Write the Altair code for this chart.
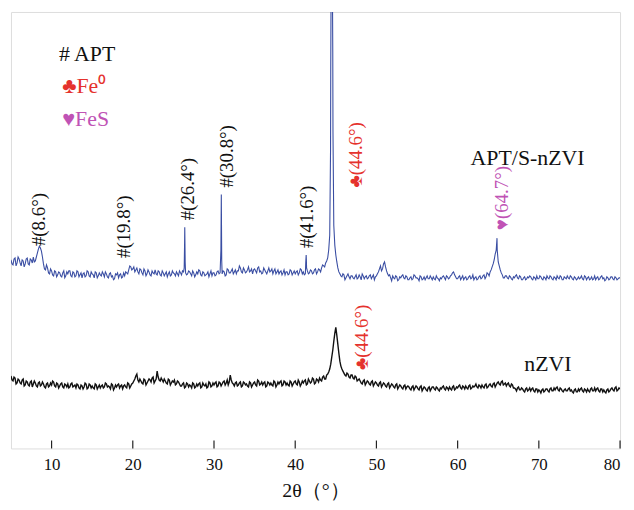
import altair as alt
import pandas as pd

# ---- data ----
grid_x = [5 + 0.25 * i for i in range(301)]
mid_x = [5.125 + 0.25 * i for i in range(300)]

blue_grid_y = [
    190,185,192,187, 191,184,189,186, 192,185,190,193, 189,197,204,199, 186,180,182,176,
    179,174,178,175, 177,173,179,174, 176,179,173,177, 174,178,175,172, 177,174,178,173,
    176,172,177,174, 175,178,173,176, 172,177,174,171, 175,172,176,173, 174,177,180,183,
    181,178,182,176, 180,175,179,176, 178,174,177,180, 175,178,174,177, 176,173,178,175,
    177,174,176,179, 175,178,177,176, 178,174,177,175, 176,179,174,177, 175,178,176,174,
    177,175,179,177, 176,178,175,180, 177,181,178,176, 179,182,177,180, 178,183,179,176,
    181,177,183,179, 177,180,176,182, 179,176,181,178, 176,179,177,175, 178,176,179,177,
    176,179,177,180, 178,176,179,177, 179,177,181,178, 180,182,184,187, 192,215,470,225,
    195,182,176,173, 175,172,176,171, 174,171,175,172, 173,176,171,174, 172,175,173,170,
    174,178,184,181, 188,179,174,172, 174,171,173,170, 172,175,171,173, 170,173,171,174,
    172,169,173,171, 170,174,171,172, 173,170,172,169, 171,174,170,173, 172,175,178,173,
    171,174,172,170, 173,171,174,172, 170,173,171,174, 172,175,173,176, 178,183,190,200,
    188,180,175,172, 174,171,173,170, 172,175,171,173, 170,173,171,172, 173,170,172,174,
    171,173,170,172, 174,171,173,170, 172,174,171,173, 170,172,174,171, 173,170,172,171,
    171,174,170,173, 172,170,173,171, 170,173,171,174, 172,170,172,171, 173,170,172,171,
    172,
]
blue_mid_y = [
    186,191,184,193, 187,190,183,191, 186,191,187,188, 193,201,202,193, 181,185,177,181,
    175,179,173,178, 174,177,172,178, 179,174,178,173, 179,173,177,176, 173,179,174,178,
    175,178,172,177, 174,176,178,173, 176,173,170,176, 177,175,172,177, 178,176,184,180,
    183,180,178,181, 177,181,174,180, 175,179,176,176, 179,175,179,174, 178,176,174,179,
    176,178,174,177, 179,205,175,179, 176,179,173,178, 180,175,178,174, 176,173,179,177,
    174,178,176,228, 179,174,181,177, 179,176,180,179, 184,178,182,177, 180,178,181,180,
    179,182,178,176, 182,178,179,178, 181,179,176,180, 178,175,180,178, 175,180,175,179,
    178,175,181,176, 175,190,176,180, 176,180,176,181, 178,185,183,189, 200,380,400,205,
    188,178,174,176, 170,174,173,174, 172,173,171,175, 170,174,173,171, 174,171,175,173,
    176,181,179,186, 183,176,175,169, 172,174,169,173, 174,172,174,170, 172,170,175,172,
    171,174,170,173, 172,171,174,170, 171,174,171,172, 173,172,174,171, 174,177,175,171,
    173,170,174,172, 170,173,171,175, 172,170,173,171, 174,171,177,174, 180,186,196,200,
    184,177,172,174, 172,174,171,173, 174,172,174,170, 172,170,173,174, 171,173,170,171,
    174,171,173,170, 172,174,171,173, 170,172,174,170, 173,171,172,174, 171,173,170,173,
    172,171,174,170, 173,171,170,174, 172,170,173,171, 169,173,170,173, 171,173,170,172,
]
blue_peak_x = [26.33, 26.4, 26.45, 30.85, 30.9, 30.95, 41.3, 41.35, 41.4,
               44.35, 44.42, 44.58, 44.65, 64.85]
blue_peak_y = [182, 223, 188, 200, 256, 190, 188, 195, 182,
               300, 470, 470, 320, 212]

black_grid_y = [
    73,68,71,66, 69,65,70,64, 67,63,68,65, 66,62,67,64, 65,61,66,63,
    64,67,62,65, 63,66,61,64, 65,62,66,63, 61,64,60,63, 62,65,61,64,
    63,60,64,62, 61,64,62,65, 63,60,64,61, 62,65,63,60, 64,61,65,63,
    66,70,75,67, 68,65,69,66, 70,67,72,68, 78,69,71,67, 68,65,69,66,
    67,64,68,65, 63,66,62,65, 64,61,65,62, 63,66,62,64, 65,62,66,63,
    64,67,63,66, 65,68,66,64, 74,66,63,67, 64,67,63,66, 65,62,66,64,
    67,63,68,65, 64,67,63,66, 66,63,67,64, 65,68,64,67, 66,63,67,65,
    68,64,67,65, 66,69,65,68, 67,70,66,69, 71,68,73,70, 75,80,92,108,
    122,105,88,80, 76,73,75,71, 74,70,72,69, 68,65,69,66, 67,64,68,65,
    66,63,67,64, 65,62,66,63, 64,61,65,62, 63,60,64,62, 62,59,63,61,
    62,59,63,60, 61,58,62,60, 62,59,61,58, 60,63,59,61, 62,59,63,60,
    61,64,60,62, 63,60,64,61, 62,65,61,63, 64,61,65,62, 65,62,66,64,
    67,64,68,65, 63,66,62,64, 61,58,62,59, 60,57,61,59, 58,61,57,60,
    59,56,60,58, 60,57,61,58, 59,62,58,60, 57,60,58,61, 59,56,60,57,
    58,61,57,59, 60,57,61,58, 58,61,57,60, 59,56,60,58, 61,58,62,59,
    60,
]
black_mid_y = [
    69,72,65,70, 66,69,63,68, 64,67,62,68, 63,66,63,67, 62,65,62,66,
    68,63,66,61, 65,62,65,62, 61,65,62,64, 65,61,64,60, 66,60,65,61,
    61,65,60,64, 63,61,66,62, 62,65,59,64, 64,61,64,63, 62,66,61,65,
    68,73,69,70, 66,70,64,68, 69,71,66,70, 72,68,69,70, 66,70,64,68,
    69,65,67,63, 65,61,66,62, 63,66,61,65, 65,61,66,63, 61,67,62,66,
    66,62,67,63, 67,64,69,67, 69,65,66,63, 66,62,67,64, 63,67,62,66,
    64,69,64,67, 66,62,67,64, 64,68,62,67, 67,63,68,64, 64,68,63,67,
    65,69,63,68, 68,64,70,66, 71,65,70,67, 69,72,70,74, 77,85,99,116,
    114,96,83,78, 74,76,72,74, 71,73,68,70, 66,68,64,68, 65,67,63,67,
    64,66,62,66, 63,65,61,65, 62,64,60,64, 61,63,60,63, 60,62,59,63,
    60,62,58,62, 59,61,58,62, 60,62,59,61, 62,60,62,59, 60,62,59,62,
    63,61,63,60, 61,63,60,63, 63,62,64,61, 62,64,61,64, 63,65,62,66,
    65,67,64,66, 65,63,65,61, 60,61,59,61, 58,60,58,61, 60,58,60,57,
    58,59,57,60, 58,60,58,61, 61,59,61,58, 59,58,60,58, 57,59,57,60,
    60,58,60,57, 58,60,58,61, 60,58,60,57, 57,59,57,60, 59,61,58,61,
]

tick_values = [10, 20, 30, 40, 50, 60, 70, 80]

ann_text = ["#(8.6°)", "#(19.8°)", "#(26.4°)", "#(30.8°)", "#(41.6°)",
            "♣(44.6°)", "♥(64.7°)", "♣(44.6°)"]
ann_x = [8.5, 18.9, 26.8, 31.6, 41.4, 47.5, 65.5, 48.2]
ann_y = [204, 192, 230, 263, 202, 263, 220, 79]
ann_color = ["#111111", "#111111", "#111111", "#111111", "#111111",
             "#e5322d", "#c053b5", "#e5322d"]

lab_text = ["# APT", "♣Fe⁰", "♥FeS", "APT/S-nZVI", "nZVI"]
lab_x = [10.9, 11.3, 11.3, 61.6, 68.2]
lab_y = [398, 365, 332, 293, 85]
lab_color = ["#111111", "#e5322d", "#c053b5", "#111111", "#111111"]

# ---- frames ----
blue = pd.DataFrame({"x": grid_x + mid_x + blue_peak_x,
                     "y": blue_grid_y + blue_mid_y + blue_peak_y}).sort_values("x")
black = pd.DataFrame({"x": grid_x + mid_x, "y": black_grid_y + black_mid_y}).sort_values("x")
ann = pd.DataFrame({"t": ann_text, "x": ann_x, "y": ann_y, "c": ann_color})
lab = pd.DataFrame({"t": lab_text, "x": lab_x, "y": lab_y, "c": lab_color})
ticks = pd.DataFrame({"x": tick_values})

SERIF = "Liberation Serif, Times New Roman, serif"
W, H = 614, 440
xs = alt.Scale(domain=[5, 80], nice=False, zero=False)
ys = alt.Scale(domain=[0, 440], nice=False, zero=False)

xaxis = alt.Axis(values=tick_values, ticks=False, domain=False, grid=False,
                 labelFont=SERIF, labelFontSize=17, labelColor="#111",
                 labelPadding=8, title="2θ（°）", titleFont=SERIF,
                 titleFontSize=20, titleFontWeight="normal", titleColor="#111",
                 titlePadding=8)

blue_line = alt.Chart(blue).mark_line(color="#3a4ea3", strokeWidth=1.1, clip=True).encode(
    x=alt.X("x:Q", scale=xs, axis=xaxis),
    y=alt.Y("y:Q", scale=ys, axis=None),
)
black_line = alt.Chart(black).mark_line(color="#111111", strokeWidth=1.4, clip=True).encode(
    x=alt.X("x:Q", scale=xs),
    y=alt.Y("y:Q", scale=ys),
)
tick_marks = alt.Chart(ticks).mark_rule(color="#222", strokeWidth=1.2).encode(
    x=alt.X("x:Q", scale=xs),
    y=alt.value(H),
    y2=alt.value(H - 8),
)
ann_marks = alt.Chart(ann).mark_text(angle=270, align="left", baseline="middle",
                                     font=SERIF, fontSize=19).encode(
    x=alt.X("x:Q", scale=xs),
    y=alt.Y("y:Q", scale=ys),
    text="t:N",
    color=alt.Color("c:N", scale=None),
)
lab_marks = alt.Chart(lab).mark_text(align="left", baseline="middle",
                                     font=SERIF, fontSize=22).encode(
    x=alt.X("x:Q", scale=xs),
    y=alt.Y("y:Q", scale=ys),
    text="t:N",
    color=alt.Color("c:N", scale=None),
)

chart = alt.layer(blue_line, black_line, tick_marks, ann_marks, lab_marks).properties(
    width=W, height=H, padding={"left": 3, "top": 2, "right": 5, "bottom": 5}
).configure_view(stroke="#333333", strokeWidth=1.3).configure(background="white")

chart.save("out.html", embed_options={"renderer": "svg", "actions": False})
